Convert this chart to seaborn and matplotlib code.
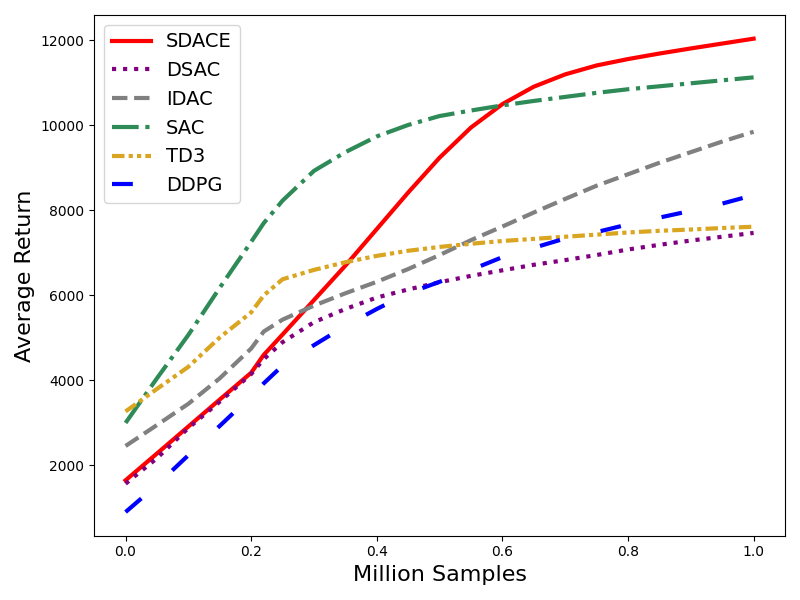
import seaborn as sns
import pandas as pd
import matplotlib.pyplot as plt

# x positions (million samples)
samples = [0.0, 0.05, 0.1, 0.15, 0.2, 0.22, 0.25, 0.3, 0.35, 0.4, 0.45, 0.5,
           0.55, 0.6, 0.65, 0.7, 0.75, 0.8, 0.85, 0.9, 0.95, 1.0]

sdace = [1650, 2280, 2915, 3550, 4180, 4600, 5080, 5890, 6700, 7560, 8420, 9240,
         9950, 10500, 10910, 11200, 11410, 11560, 11690, 11810, 11925, 12040]
dsac = [1570, 2170, 2880, 3500, 4150, 4500, 4900, 5370, 5680, 5950, 6140, 6310,
        6460, 6590, 6720, 6830, 6950, 7080, 7190, 7290, 7380, 7470]
idac = [2457, 2950, 3450, 4050, 4750, 5150, 5430, 5760, 6050, 6320, 6620, 6950,
        7300, 7620, 7950, 8270, 8580, 8850, 9120, 9370, 9620, 9850]
sac = [3000, 4050, 5070, 6180, 7260, 7700, 8230, 8930, 9370, 9740, 10010, 10220,
       10350, 10470, 10575, 10670, 10765, 10850, 10920, 10990, 11060, 11130]
td3 = [3270, 3800, 4320, 5010, 5600, 6000, 6380, 6600, 6780, 6930, 7050, 7140,
       7215, 7280, 7330, 7380, 7430, 7480, 7520, 7550, 7585, 7616]
ddpg = [903, 1540, 2240, 2930, 3630, 3930, 4350, 4830, 5280, 5680, 6050, 6320,
        6600, 6900, 7120, 7340, 7490, 7670, 7830, 7990, 8160, 8360]

methods = ["SDACE", "DSAC", "IDAC", "SAC", "TD3", "DDPG"]
values = [sdace, dsac, idac, sac, td3, ddpg]
colors = ["red", "purple", "gray", "seagreen", "goldenrod", "blue"]
styles = ["-", ":", "--", "-.", (0, (3, 1, 1, 1, 1, 1)), (0, (5, 10))]

df = pd.DataFrame({"x": samples * len(methods),
                   "y": sum(values, []),
                   "method": [m for m in methods for _ in samples]})

plt.figure(figsize=(8, 6))
for m, c, ls in zip(methods, colors, styles):
    sns.lineplot(data=df[df["method"] == m], x="x", y="y",
                 color=c, linestyle=ls, linewidth=3, label=m)

plt.xlabel("Million Samples", fontsize=16)
plt.ylabel("Average Return", fontsize=16)
plt.legend(loc="upper left", fontsize=14)

plt.tight_layout()
plt.savefig("out.png", dpi=100)
